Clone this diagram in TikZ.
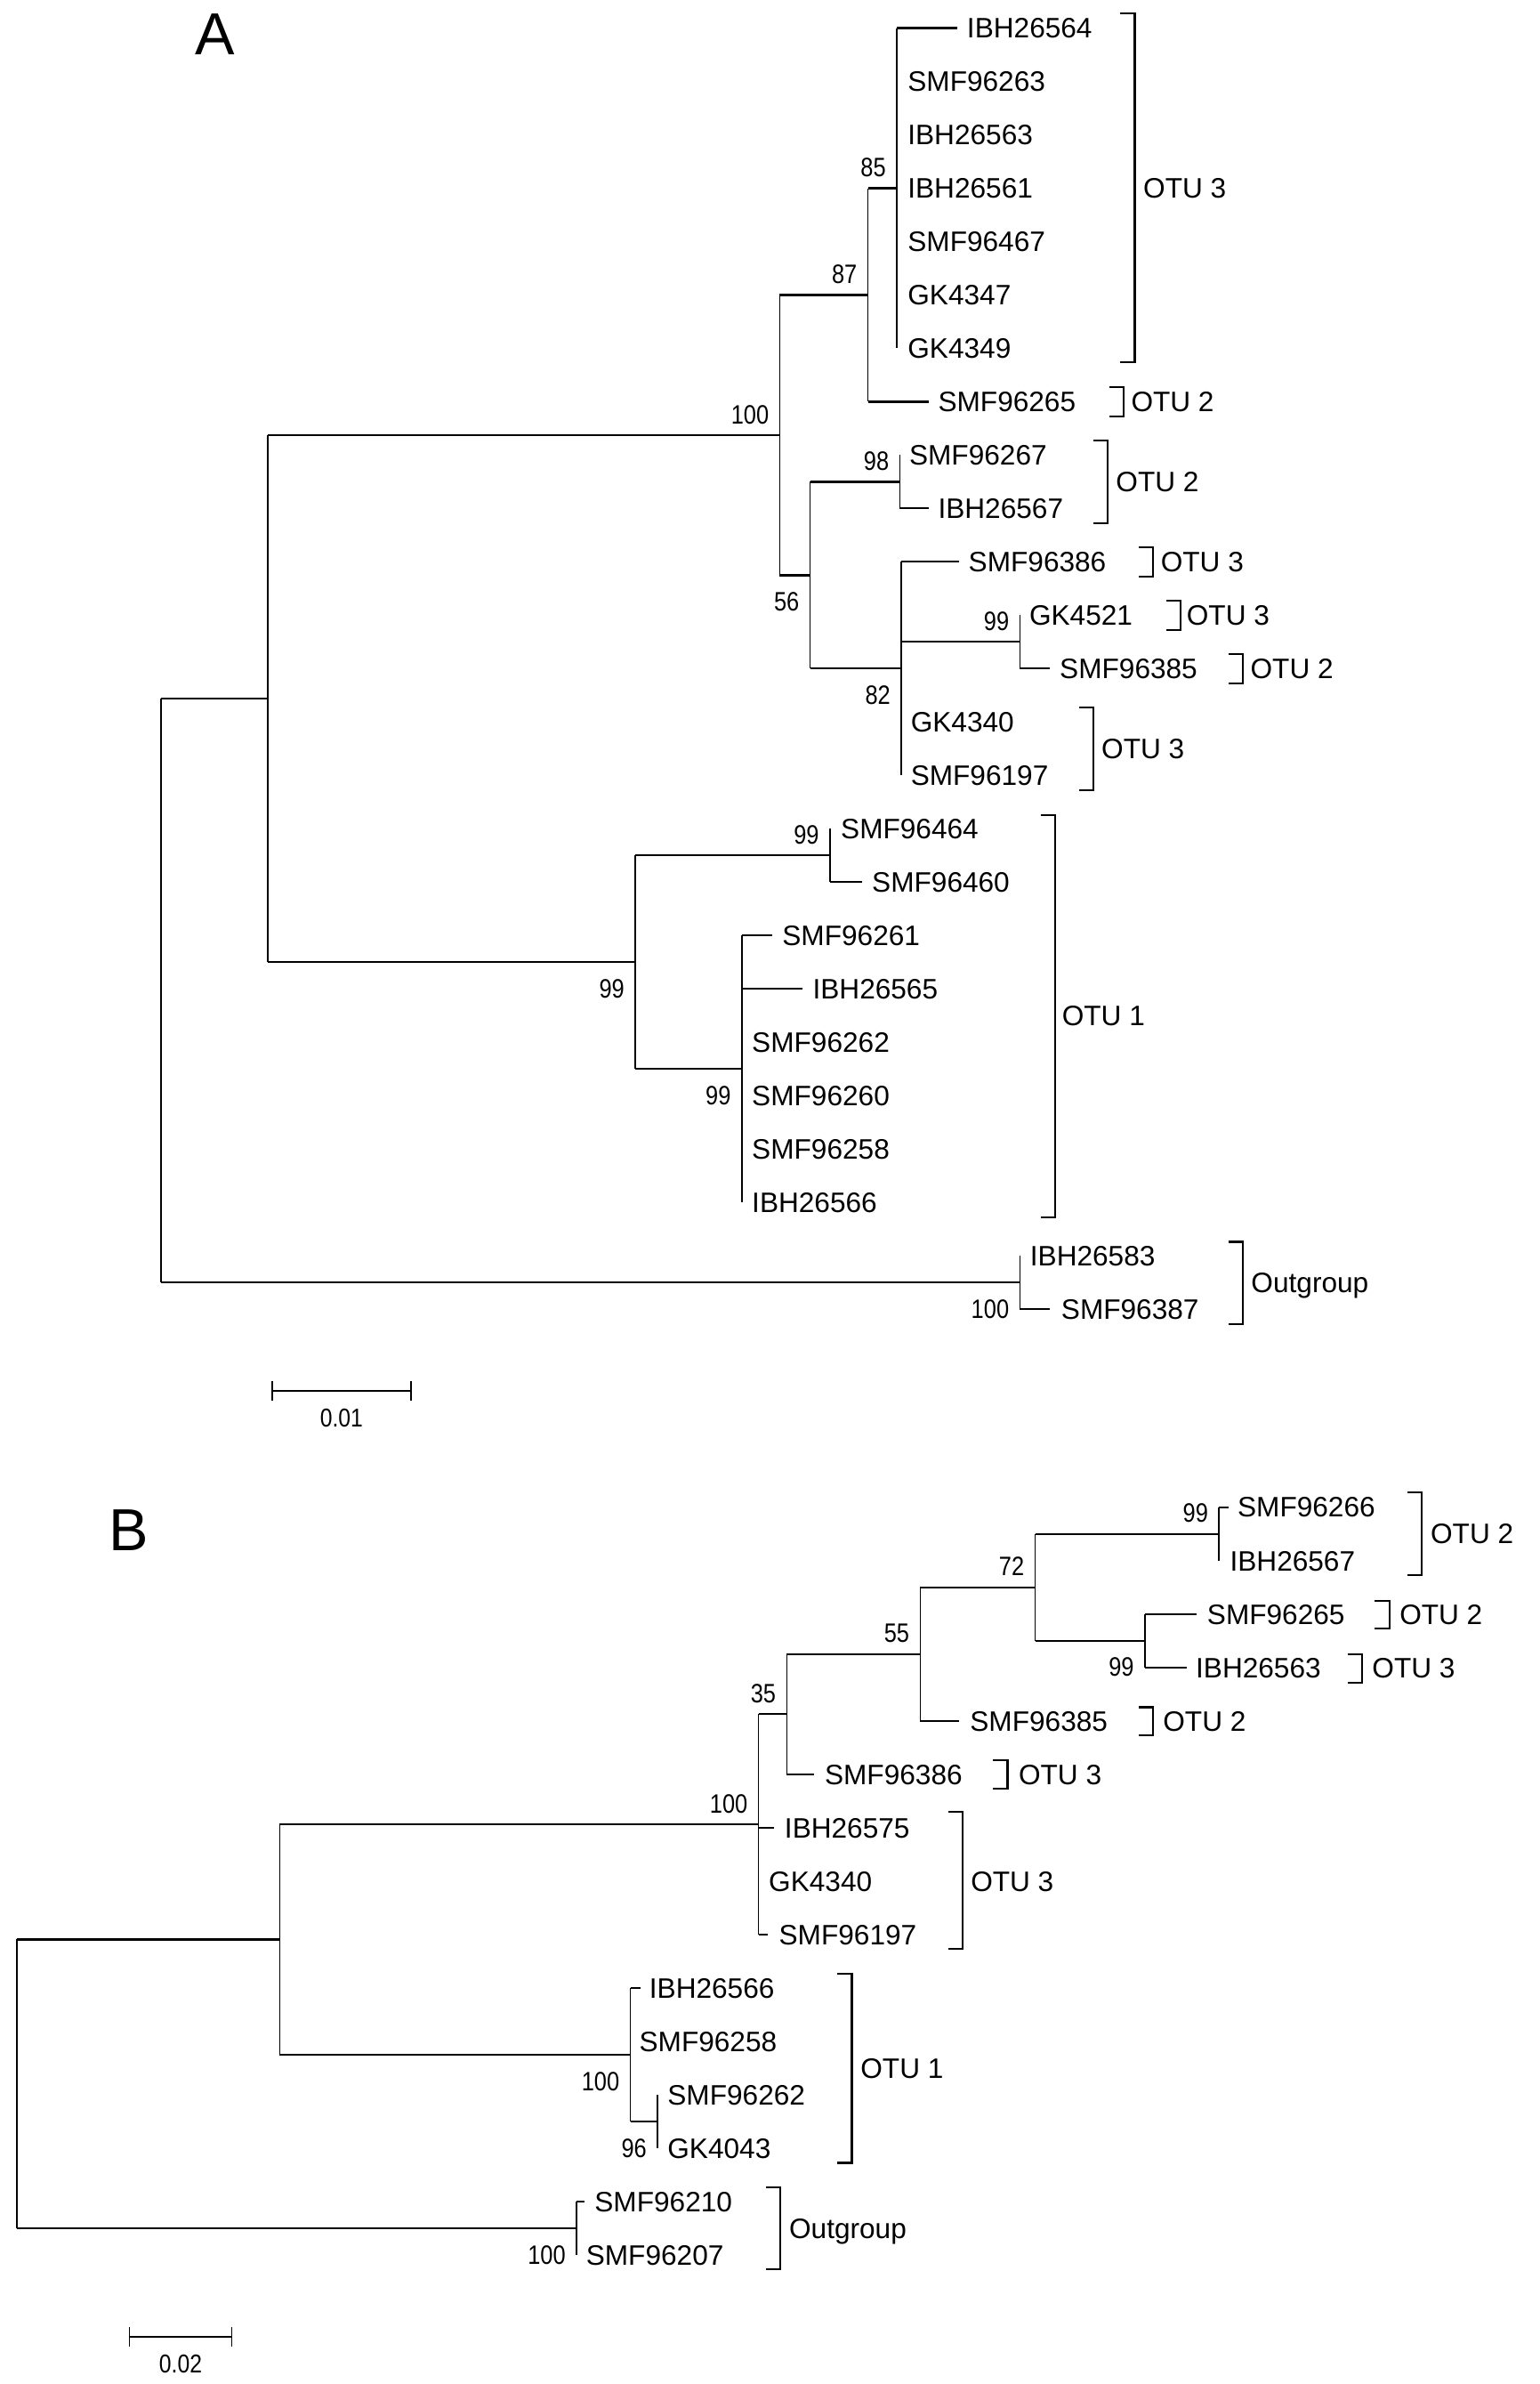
\documentclass[tikz,border=0pt]{standalone}
\usepackage{fontspec}
\setmainfont{Liberation Sans}
\newfontfamily\bsfont[FakeStretch=0.85]{Liberation Sans}
\tikzset{
  hbr/.style={line width=1.35pt},
  vbr/.style={line width=0.95pt},
  brk/.style={line width=1.25pt},
  leaf/.style={anchor=base west, inner sep=0pt, yshift=-6.6pt, font=\fontsize{18.5}{20}\selectfont},
  bsa/.style={anchor=base east, inner sep=0pt, xshift=-7pt, yshift=7.5pt, font=\bsfont\fontsize{17.5}{19}\selectfont},
  bsb/.style={anchor=base east, inner sep=0pt, xshift=-7pt, yshift=-23.5pt, font=\bsfont\fontsize{17.5}{19}\selectfont},
  panel/.style={anchor=base west, inner sep=0pt, font=\fontsize{39}{40}\selectfont},
  sclab/.style={anchor=base, inner sep=0pt, font=\bsfont\fontsize{17}{18}\selectfont}
}
\newcommand\tleaf[6]{%
  \coordinate (#1t) at (#3,#4);
  \node[leaf] (#1) at (#5-1,#4) {#6};
  \draw[hbr] (#2 |- #1t) -- (#1t);}
\newcommand\zleaf[5]{%
  \coordinate (#1t) at (#2,#3);
  \node[leaf] (#1) at (#4-1,#3) {#5};}
\newcommand\otub[7]{%
  \coordinate (#1u) at (#2,#3);
  \coordinate (#1d) at (#2,#4);
  \draw[brk] ([xshift=-9.5pt]#1u) -- (#1u) -- (#1d) -- ([xshift=-9.5pt]#1d);
  \node[leaf] (#1) at (#7-1,#5) {#6};}
\begin{document}
\begin{tikzpicture}[x=1pt,y=-1pt]
\useasboundingbox (0,0) rectangle (1013,1568);
\fill[white] (0,0) rectangle (1013,1568);

% ================= Panel A =================
\node[panel] (pA) at (128,36) {A};
\coordinate (A85) at (590,123.8);
\coordinate (A87) at (571,194);
\coordinate (A98) at (592,316.85);
\coordinate (A99a) at (671,422.15);
\coordinate (A82) at (593,439.7);
\coordinate (A56) at (533,378.3);
\coordinate (A100) at (513,286.1);
\coordinate (A99b) at (546,562.55);
\coordinate (A99c) at (488,702.95);
\coordinate (A99d) at (418,632.75);
\coordinate (A1) at (176,459.4);
\coordinate (AOut) at (671,843.35);
\coordinate (Aroot) at (106,651.4);

\tleaf{a0}{A85}{630}{18.5}{637}{IBH26564}
\zleaf{a1}{590}{53.6}{598}{SMF96263}
\zleaf{a2}{590}{88.7}{598}{IBH26563}
\zleaf{a3}{590}{123.8}{598}{IBH26561}
\zleaf{a4}{590}{158.9}{598}{SMF96467}
\zleaf{a5}{590}{194}{598}{GK4347}
\zleaf{a6}{590}{229.1}{598}{GK4349}
\tleaf{a7}{A87}{611}{264.2}{618}{SMF96265}
\zleaf{a8}{592}{299.3}{599}{SMF96267}
\tleaf{a9}{A98}{611}{334.4}{618}{IBH26567}
\tleaf{a10}{A82}{631}{369.5}{638}{SMF96386}
\zleaf{a11}{671}{404.6}{678}{GK4521}
\tleaf{a12}{A99a}{690.6}{439.7}{698}{SMF96385}
\zleaf{a13}{593}{474.8}{600}{GK4340}
\zleaf{a14}{593}{509.9}{600}{SMF96197}
\zleaf{a15}{546}{545}{554}{SMF96464}
\tleaf{a16}{A99b}{567}{580.1}{574.5}{SMF96460}
\tleaf{a17}{A99c}{508}{615.2}{515.5}{SMF96261}
\tleaf{a18}{A99c}{528}{650.3}{535.5}{IBH26565}
\zleaf{a19}{488}{685.4}{495.5}{SMF96262}
\zleaf{a20}{488}{720.5}{495.5}{SMF96260}
\zleaf{a21}{488}{755.6}{495.5}{SMF96258}
\zleaf{a22}{488}{790.7}{495.5}{IBH26566}
\zleaf{a23}{671}{825.8}{678.5}{IBH26583}
\tleaf{a24}{AOut}{690.6}{860.9}{699}{SMF96387}

\draw[vbr] (A85 |- a0t) -- (A85 |- a6t);
\draw[vbr] (A87 |- A85) -- (A87 |- a7t);
\draw[vbr] (A98 |- a8t) -- (A98 |- a9t);
\draw[vbr] (A99a |- a11t) -- (A99a |- a12t);
\draw[vbr] (A82 |- a10t) -- (A82 |- a14t);
\draw[vbr] (A56 |- A98) -- (A56 |- A82);
\draw[vbr] (A100 |- A87) -- (A100 |- A56);
\draw[vbr] (A99b |- a15t) -- (A99b |- a16t);
\draw[vbr] (A99c |- a17t) -- (A99c |- a22t);
\draw[vbr] (A99d |- A99b) -- (A99d |- A99c);
\draw[vbr] (A1 |- A100) -- (A1 |- A99d);
\draw[vbr] (AOut |- a23t) -- (AOut |- a24t);
\draw[vbr] (Aroot |- A1) -- (Aroot |- AOut);

\draw[hbr] (A87 |- A85) -- (A85);
\draw[hbr] (A100 |- A87) -- (A87);
\draw[hbr] (A56 |- A98) -- (A98);
\draw[hbr] (A82 |- A99a) -- (A99a);
\draw[hbr] (A56 |- A82) -- (A82);
\draw[hbr] (A100 |- A56) -- (A56);
\draw[hbr] (A1 |- A100) -- (A100);
\draw[hbr] (A99d |- A99b) -- (A99b);
\draw[hbr] (A99d |- A99c) -- (A99c);
\draw[hbr] (A1 |- A99d) -- (A99d);
\draw[hbr] (Aroot |- A1) -- (A1);
\draw[hbr] (Aroot |- AOut) -- (AOut);

\node[bsa] (bsA85) at (A85) {85};
\node[bsa] (bsA87) at (A87) {87};
\node[bsa] (bsA100) at (A100) {100};
\node[bsa] (bsA98) at (A98) {98};
\node[bsb] (bsA56) at (A56) {56};
\node[bsa] (bsA99a) at (A99a) {99};
\node[bsb] (bsA82) at (A82) {82};
\node[bsa] (bsA99b) at (A99b) {99};
\node[bsb] (bsA99d) at (A99d) {99};
\node[bsb] (bsA99c) at (A99c) {99};
\node[bsb] (bsAOut) at (AOut) {100};

\otub{oa1}{746.5}{8.8}{238.4}{123.8}{OTU 3}{753}
\otub{oa2}{739.2}{254.5}{274}{264.2}{OTU 2}{745}
\otub{oa3}{728.6}{289.6}{343.9}{316.85}{OTU 2}{735}
\otub{oa4}{758.5}{359.8}{379.2}{369.5}{OTU 3}{764.5}
\otub{oa5}{776.7}{394.9}{414.3}{404.6}{OTU 3}{781.5}
\otub{oa6}{817.6}{430}{449.4}{439.7}{OTU 2}{823.5}
\otub{oa7}{719.4}{465.1}{519.6}{492.35}{OTU 3}{725.5}
\otub{oa8}{694}{535.9}{800.6}{667.85}{OTU 1}{699.5}
\otub{oa9}{817.6}{816.8}{870.8}{843.35}{Outgroup}{824}

\coordinate (sa1) at (179,914.8);
\coordinate (sa2) at (270.4,914.8);
\draw[hbr] (sa1) -- (sa2);
\draw[vbr] ([yshift=6.3pt]sa1) -- ([yshift=-6.3pt]sa1);
\draw[vbr] ([yshift=6.3pt]sa2) -- ([yshift=-6.3pt]sa2);
\node[sclab] (sal) at (224.7,938.3) {0.01};

% ================= Panel B =================
\node[panel] (pB) at (71.5,1020) {B};
\coordinate (B99a) at (802,1008.87);
\coordinate (B99b) at (753.2,1079.13);
\coordinate (B72) at (681,1044);
\coordinate (B55) at (605.4,1087.91);
\coordinate (B35) at (517.6,1127.43);
\coordinate (B100a) at (499,1199.89);
\coordinate (B96) at (432.6,1395.3);
\coordinate (B100b) at (414.7,1351.38);
\coordinate (B1) at (184,1275.6);
\coordinate (BOut) at (379.3,1465.55);
\coordinate (Broot) at (11.2,1370.6);

\tleaf{b0}{B99a}{808}{991.3}{815}{SMF96266}
\zleaf{b1}{802}{1026.43}{810}{IBH26567}
\tleaf{b2}{B99b}{787.4}{1061.56}{795}{SMF96265}
\tleaf{b3}{B99b}{781}{1096.69}{787.5}{IBH26563}
\tleaf{b4}{B55}{631.2}{1131.82}{639}{SMF96385}
\tleaf{b5}{B35}{535.7}{1166.95}{543.4}{SMF96386}
\tleaf{b6}{B100a}{509}{1202.08}{517}{IBH26575}
\zleaf{b7}{499}{1237.21}{506.6}{GK4340}
\tleaf{b8}{B100a}{505.2}{1272.34}{513.3}{SMF96197}
\tleaf{b9}{B100b}{421.4}{1307.47}{428}{IBH26566}
\zleaf{b10}{414.7}{1342.6}{421.4}{SMF96258}
\zleaf{b11}{432.6}{1377.73}{440}{SMF96262}
\zleaf{b12}{432.6}{1412.86}{440}{GK4043}
\tleaf{b13}{BOut}{384.6}{1447.99}{392}{SMF96210}
\zleaf{b14}{379.3}{1483.12}{386.4}{SMF96207}

\draw[vbr] (B99a |- b0t) -- (B99a |- b1t);
\draw[vbr] (B99b |- b2t) -- (B99b |- b3t);
\draw[vbr] (B72 |- B99a) -- (B72 |- B99b);
\draw[vbr] (B55 |- B72) -- (B55 |- b4t);
\draw[vbr] (B35 |- B55) -- (B35 |- b5t);
\draw[vbr] (B100a |- B35) -- (B100a |- b8t);
\draw[vbr] (B96 |- b11t) -- (B96 |- b12t);
\draw[vbr] (B100b |- b9t) -- (B100b |- B96);
\draw[vbr] (B1 |- B100a) -- (B1 |- B100b);
\draw[vbr] (BOut |- b13t) -- (BOut |- b14t);
\draw[vbr] (Broot |- B1) -- (Broot |- BOut);

\draw[hbr] (B72 |- B99a) -- (B99a);
\draw[hbr] (B72 |- B99b) -- (B99b);
\draw[hbr] (B55 |- B72) -- (B72);
\draw[hbr] (B35 |- B55) -- (B55);
\draw[hbr] (B100a |- B35) -- (B35);
\draw[hbr] (B1 |- B100a) -- (B100a);
\draw[hbr] (B100b |- B96) -- (B96);
\draw[hbr] (B1 |- B100b) -- (B100b);
\draw[hbr] (Broot |- B1) -- (B1);
\draw[hbr] (Broot |- BOut) -- (BOut);

\node[bsa] (bsB99a) at (B99a) {99};
\node[bsa] (bsB72) at (B72) {72};
\node[bsb] (bsB99b) at (B99b) {99};
\node[bsa] (bsB55) at (B55) {55};
\node[bsa] (bsB35) at (B35) {35};
\node[bsa] (bsB100a) at (B100a) {100};
\node[bsb] (bsB100b) at (B100b) {100};
\node[bsb] (bsB96) at (B96) {96};
\node[bsb] (bsBOut) at (BOut) {100};

\otub{ob1}{935.5}{981.6}{1036.1}{1008.87}{OTU 2}{942}
\otub{ob2}{914}{1052.8}{1071.3}{1061.56}{OTU 2}{921.6}
\otub{ob3}{896}{1087.9}{1106.8}{1096.69}{OTU 3}{903.6}
\otub{ob4}{758.4}{1122.9}{1141.5}{1131.82}{OTU 2}{766}
\otub{ob5}{662.8}{1157.7}{1176.3}{1166.95}{OTU 3}{671}
\otub{ob6}{633.5}{1191.8}{1282}{1237.21}{OTU 3}{639.5}
\otub{ob7}{560.4}{1298.4}{1422.5}{1360.2}{OTU 1}{567}
\otub{ob8}{513.3}{1438.6}{1492.3}{1465.55}{Outgroup}{520}

\coordinate (sb1) at (85.2,1537);
\coordinate (sb2) at (152.4,1537);
\draw[hbr] (sb1) -- (sb2);
\draw[vbr] ([yshift=6.3pt]sb1) -- ([yshift=-6.3pt]sb1);
\draw[vbr] ([yshift=6.3pt]sb2) -- ([yshift=-6.3pt]sb2);
\node[sclab] (sbl) at (118.8,1560.4) {0.02};
\end{tikzpicture}
\end{document}
